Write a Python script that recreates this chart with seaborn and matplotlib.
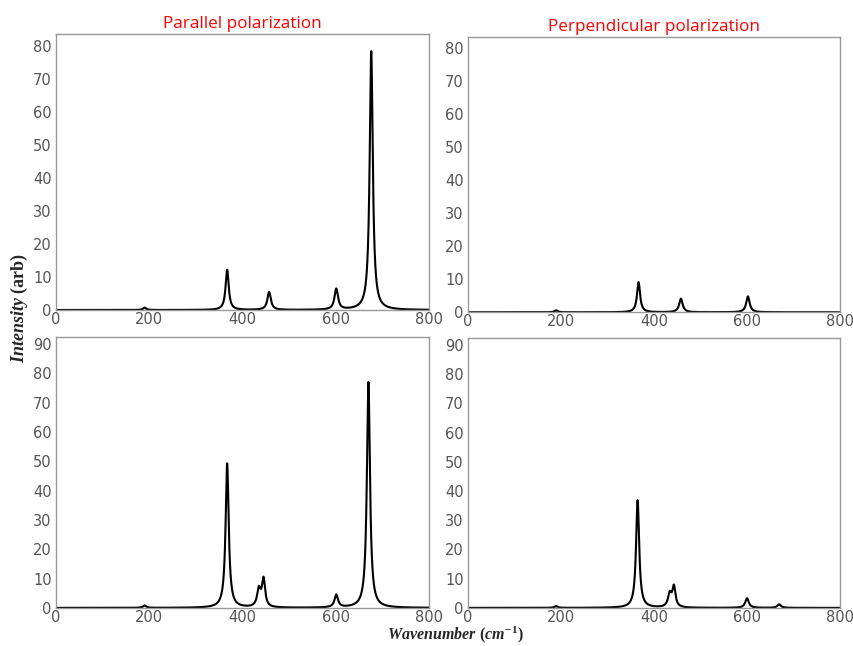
import numpy as np
import pandas as pd
import matplotlib
matplotlib.use("Agg")
import matplotlib.pyplot as plt
import seaborn as sns

# ---- data: Raman peak parameters ----
# (centre cm^-1, height arb, half width cm^-1)
tl_centres = [190, 367, 457, 601, 676]
tl_heights = [0.7, 12.2, 5.4, 6.3, 78.3]
tl_widths = [4, 4, 4.5, 4.5, 4]

tr_centres = [190, 367, 458, 602]
tr_heights = [0.6, 9.1, 4.1, 4.8]
tr_widths = [4, 4, 4.5, 4.5]

bl_centres = [190, 367, 435, 445, 601, 670]
bl_heights = [0.8, 49.2, 6.0, 9.5, 4.3, 77.0]
bl_widths = [4, 4, 4.5, 4, 4.5, 4]

br_centres = [190, 365, 434, 443, 600, 669]
br_heights = [0.6, 36.8, 4.5, 7.0, 3.3, 1.2]
br_widths = [4, 4, 4.5, 4, 4.5, 4.5]

titles = ["Parallel polarization", "Perpendicular polarization"]
x_ticks = [0, 200, 400, 600, 800]
top_yticks = [0, 10, 20, 30, 40, 50, 60, 70, 80]
bottom_yticks = [0, 10, 20, 30, 40, 50, 60, 70, 80, 90]

wavenumber = np.linspace(0, 800, 3201)


def spectrum(centres, heights, widths):
    y = np.zeros_like(wavenumber)
    for c, h, w in zip(centres, heights, widths):
        y += h * w ** 2 / ((wavenumber - c) ** 2 + w ** 2)
    return y


panels = [
    (tl_centres, tl_heights, tl_widths),
    (tr_centres, tr_heights, tr_widths),
    (bl_centres, bl_heights, bl_widths),
    (br_centres, br_heights, br_widths),
]

sns.set_style("white")
plt.rcParams["font.family"] = ["DejaVu Sans"]
plt.rcParams["mathtext.fontset"] = "custom"
plt.rcParams["mathtext.it"] = "Liberation Serif:italic:bold"
plt.rcParams["mathtext.bf"] = "Liberation Serif:bold"
plt.rcParams["mathtext.rm"] = "Liberation Serif:bold"

fig = plt.figure(figsize=(8.54, 6.46), dpi=100)
positions = [
    [0.0656, 0.5201, 0.4368, 0.4272],
    [0.5477, 0.5166, 0.4360, 0.4266],
    [0.0656, 0.0590, 0.4368, 0.4190],
    [0.5477, 0.0590, 0.4360, 0.4175],
]
ylims = [83.5, 83.3, 92.3, 92.3]

for i, (pos, (c, h, w)) in enumerate(zip(positions, panels)):
    ax = fig.add_axes(pos)
    df = pd.DataFrame({"wavenumber": wavenumber, "intensity": spectrum(c, h, w)})
    sns.lineplot(data=df, x="wavenumber", y="intensity", ax=ax,
                 color="black", linewidth=1.5, estimator=None)
    ax.set_xlim(0, 800)
    ax.set_ylim(0, ylims[i])
    ax.set_xticks(x_ticks)
    ax.set_yticks(top_yticks if i < 2 else bottom_yticks)
    ax.set_xlabel("")
    ax.set_ylabel("")
    ax.tick_params(axis="y", length=0, pad=3, labelsize=10.5, labelcolor="#555555")
    ax.tick_params(axis="x", length=0, pad=1.5, labelsize=10.5, labelcolor="#555555")
    for s in ax.spines.values():
        s.set_color("#999999")
        s.set_linewidth(1.0)
    if i < 2:
        ax.set_title(titles[i], color="#ff0000", fontsize=12.3,
                     family=["Open Sans", "DejaVu Sans"], pad=4)

fig.text(0.023, 0.523, r"$\mathit{Intensity}\ \mathbf{(arb)}$", rotation=90,
         ha="center", va="center", fontsize=13)
fig.text(0.533, 0.001, r"$\mathit{Wavenumber\ (cm^{-1})}$",
         ha="center", va="bottom", fontsize=11.5)

fig.savefig("out.png", dpi=100)
